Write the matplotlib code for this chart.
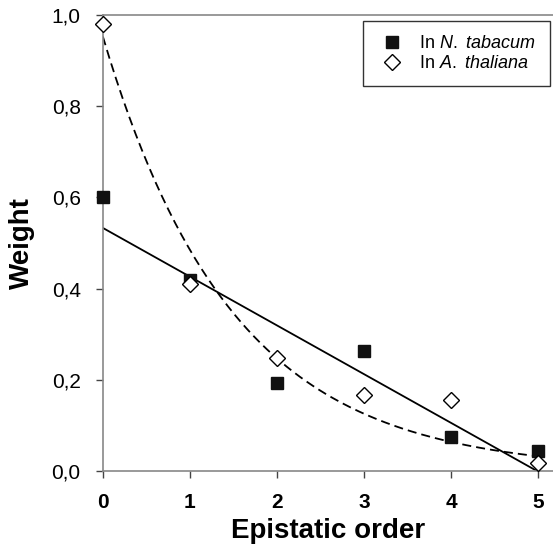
import numpy as np
import matplotlib
matplotlib.use("Agg")
import matplotlib.pyplot as plt
from matplotlib.ticker import FuncFormatter

plt.rcParams['font.family'] = ['Liberation Sans', 'DejaVu Sans']
plt.rcParams['mathtext.fontset'] = 'custom'
plt.rcParams['mathtext.rm'] = 'Liberation Sans'
plt.rcParams['mathtext.it'] = 'Liberation Sans:italic'

order = np.array([0, 1, 2, 3, 4, 5])
tabacum = np.array([0.60, 0.42, 0.193, 0.263, 0.075, 0.045])
thaliana = np.array([0.98, 0.41, 0.247, 0.166, 0.155, 0.018])

# linear fit for N. tabacum
k, b0 = np.polyfit(order, tabacum, 1)

# exponential fit y = a*exp(-b x) for A. thaliana (grid search over b)
best = None
for b in np.linspace(0.05, 3, 1200):
    e = np.exp(-b * order)
    a = np.sum(thaliana * e) / np.sum(e * e)
    err = np.sum((a * e - thaliana) ** 2)
    if best is None or err < best[0]:
        best = (err, a, b)
_, aexp, bexp = best

xs = np.linspace(0, 5, 200)

fig = plt.figure(figsize=(5.53, 5.53), dpi=100)
ax = fig.add_axes([0.186, 0.148, 0.814, 0.825])

ax.plot(xs, k * xs + b0, '-', color='black', lw=1.3, zorder=2)
ax.plot(xs, aexp * np.exp(-bexp * xs), '--', color='black', lw=1.3,
        dashes=(5, 2.8), zorder=2)
ax.plot(order, tabacum, 's', ms=9, color='#111111', ls='none',
        label='$\\mathrm{In}\\ \\mathit{N.\\ tabacum}$', zorder=3, clip_on=False)
ax.plot(order, thaliana, 'D', ms=8.5, mfc='white', mec='black', mew=1.0, ls='none',
        label='$\\mathrm{In}\\ \\mathit{A.\\ thaliana}$', zorder=3, clip_on=False)

ax.set_xlim(0, 5.17)
ax.set_ylim(0, 1.0)
ax.set_xticks(order)
ax.set_yticks([0, 0.2, 0.4, 0.6, 0.8, 1.0])
ax.yaxis.set_major_formatter(FuncFormatter(lambda v, p: f"{v:.1f}".replace('.', ',')))

for s in ['left', 'bottom', 'top']:
    ax.spines[s].set_color('#888888')
    ax.spines[s].set_linewidth(1.2)
ax.spines['right'].set_visible(False)

ax.tick_params(axis='x', direction='out', length=5, width=1, color='#444444',
               labelsize=15, pad=11)
ax.tick_params(axis='y', direction='out', length=5, width=1, color='#444444',
               labelsize=15, pad=11)
for t in ax.get_xticklabels():
    t.set_fontweight('bold')

ax.set_xlabel('Epistatic order', fontsize=20, fontweight='bold', labelpad=4)
ax.set_ylabel('Weight', fontsize=20, fontweight='bold', labelpad=12)

leg = ax.legend(loc='upper right', bbox_to_anchor=(0.993, 0.987), borderaxespad=0,
                fontsize=13, frameon=True, fancybox=False, edgecolor='black',
                handletextpad=0.7, labelspacing=0.15, borderpad=0.8, handlelength=1.6)
leg.get_frame().set_linewidth(1.0)

fig.savefig('out.png', dpi=100)
